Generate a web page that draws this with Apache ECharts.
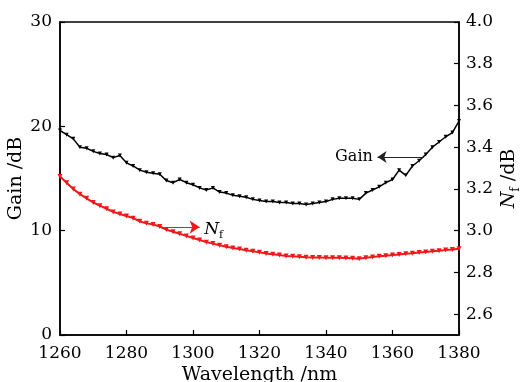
<!DOCTYPE html>
<html>
<head>
<meta charset="utf-8">
<script src="https://cdn.jsdelivr.net/npm/echarts@6/dist/echarts.min.js"></script>
<style>
  html, body { margin: 0; padding: 0; background: #fff; }
  #chart { width: 521px; height: 382px; }
</style>
</head>
<body>
<div id="chart"></div>
<script>
// wavelength samples (nm)
const wavelengths = [
  1260, 1262, 1264, 1266, 1268, 1270, 1272, 1274, 1276, 1278,
  1280, 1282, 1284, 1286, 1288, 1290, 1292, 1294, 1296, 1298,
  1300, 1302, 1304, 1306, 1308, 1310, 1312, 1314, 1316, 1318,
  1320, 1322, 1324, 1326, 1328, 1330, 1332, 1334, 1336, 1338,
  1340, 1342, 1344, 1346, 1348, 1350, 1352, 1354, 1356, 1358,
  1360, 1362, 1364, 1366, 1368, 1370, 1372, 1374, 1376, 1378,
  1380
]

// Gain /dB (left axis)
const gain = [
  19.6, 19.2, 18.8, 18.0, 17.9, 17.6, 17.4, 17.3, 17.0, 17.2,
  16.5, 16.2, 15.8, 15.6, 15.5, 15.4, 14.8, 14.6, 14.9, 14.6,
  14.4, 14.1, 13.9, 14.1, 13.7, 13.6, 13.4, 13.3, 13.2, 13.0,
  12.9, 12.8, 12.8, 12.7, 12.7, 12.6, 12.6, 12.5, 12.6, 12.7,
  12.8, 13.0, 13.1, 13.1, 13.1, 13.0, 13.6, 13.9, 14.2, 14.6,
  14.9, 15.8, 15.3, 16.2, 16.7, 17.3, 18.0, 18.5, 19.0, 19.4,
  20.5
]

// Nf /dB (right axis)
const nf = [
  3.260, 3.230, 3.200, 3.175, 3.155, 3.135, 3.120, 3.105, 3.090, 3.080,
  3.070, 3.060, 3.045, 3.035, 3.030, 3.020, 3.005, 2.995, 2.985, 2.975,
  2.965, 2.955, 2.945, 2.938, 2.930, 2.923, 2.917, 2.912, 2.906, 2.901,
  2.896, 2.891, 2.887, 2.883, 2.879, 2.877, 2.875, 2.873, 2.872, 2.871,
  2.870, 2.870, 2.870, 2.869, 2.868, 2.866, 2.870, 2.874, 2.877, 2.880,
  2.883, 2.886, 2.889, 2.892, 2.895, 2.898, 2.901, 2.904, 2.907, 2.910,
  2.913
]

// tick labels
const xTicks = [1260, 1280, 1300, 1320, 1340, 1360, 1380]
const gainTicks = [0, 10, 20, 30]
const nfTicks = [2.6, 2.8, 3.0, 3.2, 3.4, 3.6, 3.8, 4.0]

// annotation anchors (data space)
const gainArrow = [[1369.5, 17.07], [1355.5, 17.07]]
const gainText = [1348.4, 17.07]
const nfArrow = [[1290, 3.017], [1302, 3.017]]
const nfText = [1306.2, 3.017]

const FONT = 'DejaVu Serif'

const toPairs = (xs, ys) => xs.map((x, i) => [x, ys[i]])

const chart = echarts.init(document.getElementById('chart'), null, { renderer: 'canvas' })

const axisCommon = {
  axisLine: { show: true, lineStyle: { color: '#000', width: 1.5 } },
  axisTick: { show: true, inside: true, length: 5, lineStyle: { color: '#000', width: 1.2 } },
  splitLine: { show: false },
  axisLabel: { color: '#000', fontFamily: FONT, fontSize: 17 },
  nameMoveOverlap: false,
  nameTextStyle: { color: '#000', fontFamily: FONT, fontSize: 19 }
}

const option = {
  animation: false,
  backgroundColor: '#fff',
  grid: {
    left: 60, right: 62, top: 22, bottom: 47,
    containLabel: false,
    outerBoundsMode: 'none',
    show: true, borderColor: '#000', borderWidth: 1.5
  },
  xAxis: {
    type: 'value',
    min: xTicks[0],
    max: xTicks[xTicks.length - 1],
    interval: 20,
    name: 'Wavelength /nm',
    nameLocation: 'middle',
    nameGap: 31,
    ...axisCommon,
    axisLabel: { ...axisCommon.axisLabel, margin: 10, formatter: (v) => String(v) }
  },
  yAxis: [
    {
      type: 'value',
      min: gainTicks[0],
      max: gainTicks[gainTicks.length - 1],
      interval: 10,
      name: 'Gain /dB',
      nameLocation: 'middle',
      nameRotate: 90,
      nameGap: 34,
      ...axisCommon,
      axisLabel: { ...axisCommon.axisLabel, margin: 8 }
    },
    {
      type: 'value',
      position: 'right',
      min: 2.5,
      max: 4.0,
      name: '{n|N}{s|f}{t| /dB}',
      nameLocation: 'middle',
      nameRotate: 90,
      nameGap: 36,
      ...axisCommon,
      axisTick: { ...axisCommon.axisTick, customValues: nfTicks },
      axisLabel: {
        ...axisCommon.axisLabel,
        margin: 7,
        customValues: nfTicks,
        formatter: (v) => Number(v).toFixed(1)
      },
      nameTextStyle: {
        color: '#000',
        fontFamily: FONT,
        fontSize: 19,
        rich: {
          n: { fontFamily: FONT, fontSize: 19, fontStyle: 'italic', color: '#000', lineHeight: 24, verticalAlign: 'bottom' },
          s: { fontFamily: FONT, fontSize: 12, color: '#000', lineHeight: 24, verticalAlign: 'bottom', padding: [0, 0, -3, 0] },
          t: { fontFamily: FONT, fontSize: 19, color: '#000', lineHeight: 24, verticalAlign: 'bottom' }
        }
      }
    }
  ],
  series: [
    {
      name: 'Gain',
      type: 'line',
      yAxisIndex: 0,
      data: toPairs(wavelengths, gain),
      showSymbol: true,
      symbol: 'triangle',
      symbolRotate: 180,
      symbolSize: 4,
      itemStyle: { color: '#000' },
      lineStyle: { color: '#000', width: 1.5 },
      markLine: {
        silent: true,
        symbol: ['none', 'arrow'],
        symbolSize: 9,
        label: { show: false },
        lineStyle: { color: '#222', width: 1, type: 'solid' },
        data: [[{ coord: gainArrow[0] }, { coord: gainArrow[1] }]]
      },
      markPoint: {
        silent: true,
        symbol: 'circle',
        symbolSize: 0,
        label: { show: true, position: 'inside', color: '#000', fontFamily: FONT, fontSize: 16, formatter: 'Gain' },
        data: [{ coord: gainText }]
      }
    },
    {
      name: 'Nf',
      type: 'line',
      yAxisIndex: 1,
      data: toPairs(wavelengths, nf),
      showSymbol: true,
      symbol: 'triangle',
      symbolRotate: 180,
      symbolSize: 5,
      itemStyle: { color: '#f01818' },
      lineStyle: { color: '#f01818', width: 2 },
      markLine: {
        silent: true,
        symbol: ['none', 'arrow'],
        symbolSize: 10,
        label: { show: false },
        lineStyle: { color: '#f01818', width: 1.2, type: 'solid' },
        data: [[{ coord: nfArrow[0] }, { coord: nfArrow[1] }]]
      },
      markPoint: {
        silent: true,
        symbol: 'circle',
        symbolSize: 0,
        label: {
          show: true,
          position: 'inside',
          formatter: '{n|N}{s|f}',
          rich: {
            n: { fontFamily: FONT, fontSize: 17, fontStyle: 'italic', color: '#000', lineHeight: 22, verticalAlign: 'bottom' },
            s: { fontFamily: FONT, fontSize: 11, color: '#000', lineHeight: 22, verticalAlign: 'bottom', padding: [0, 0, -3, 0] }
          }
        },
        data: [{ coord: nfText }]
      }
    }
  ]
}

chart.setOption(option)
</script>
</body>
</html>
